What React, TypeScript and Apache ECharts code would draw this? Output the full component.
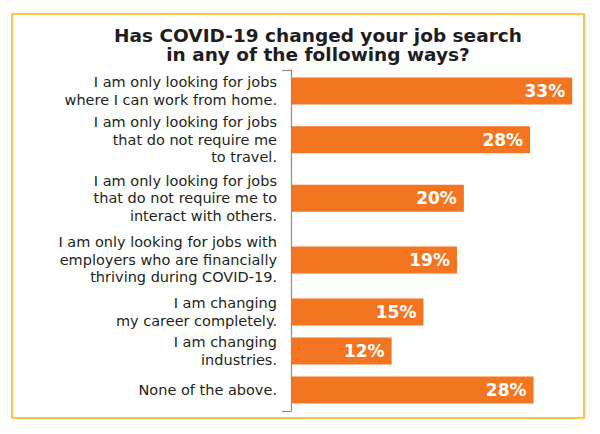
import React, { useEffect, useRef } from 'react';
import * as echarts from 'echarts';

const titleLines = ['Has COVID-19 changed your job search', 'in any of the following ways?'];

const categories = [
  'I am only looking for jobs\nwhere I can work from home.',
  'I am only looking for jobs\nthat do not require me\nto travel.',
  'I am only looking for jobs\nthat do not require me to\ninteract with others.',
  'I am only looking for jobs with\nemployers who are financially\nthriving during COVID-19.',
  'I am changing\nmy career completely.',
  'I am changing\nindustries.',
  'None of the above.',
];

const values = [32.7, 27.8, 20.1, 19.3, 15.4, 11.7, 28.2];

// Layout only: slot of each bar on a fine category axis, reproducing the uneven row spacing
const rowSlots = [6, 21, 39, 58, 74, 86, 98];
const SLOT_COUNT = 105;

export default function App() {
  const ref = useRef<HTMLDivElement>(null);

  useEffect(() => {
    const chart = echarts.init(ref.current!, null, { renderer: 'svg' });

    const slotNames: string[] = [];
    const labelAt: string[] = [];
    const barData: any[] = [];
    for (let i = 0; i < SLOT_COUNT; i++) {
      slotNames.push('s' + i);
      labelAt.push('');
      barData.push('-');
    }
    rowSlots.forEach((s, i) => {
      labelAt[s] = categories[i];
      barData[s] = values[i];
    });

    chart.setOption({
      animation: false,
      backgroundColor: '#ffffff',
      grid: { left: 291, top: 70, width: 301, height: 341, outerBoundsMode: 'none' },
      xAxis: { type: 'value', min: 0, max: 35, show: false },
      yAxis: {
        type: 'category',
        inverse: true,
        data: slotNames,
        axisLine: { show: true, lineStyle: { color: '#8c8c8c', width: 1.2 } },
        axisTick: {
          show: true,
          length: 9,
          interval: (index: number) => index === 0,
          lineStyle: { color: '#8c8c8c', width: 1.2 },
        },
        axisLabel: {
          interval: 0,
          formatter: (_v: string, i: number) => labelAt[i],
          margin: 14,
          align: 'right',
          fontSize: 14.5,
          lineHeight: 17.5,
          color: '#231f20',
          fontFamily: 'DejaVu Sans',
        },
        splitLine: { show: false },
      },
      series: [
        {
          type: 'bar',
          data: barData,
          barWidth: 27,
          itemStyle: { color: '#F37421' },
          label: {
            show: true,
            position: 'insideRight',
            distance: 7,
            formatter: (p: any) => Math.round(p.value) + '%',
            color: '#ffffff',
            fontSize: 17,
            fontWeight: 'bold',
            fontFamily: 'DejaVu Sans',
          },
        },
      ],
      graphic: [
        {
          type: 'rect',
          silent: true,
          shape: { x: 12, y: 14, width: 572, height: 404 },
          style: { fill: 'none', stroke: '#FFC548', lineWidth: 2 },
        },
        {
          type: 'text',
          silent: true,
          x: 318,
          y: 26,
          style: {
            text: titleLines.join('\n'),
            align: 'center',
            verticalAlign: 'top',
            fontSize: 18.5,
            fontWeight: 'bold',
            fontFamily: 'DejaVu Sans',
            lineHeight: 19,
            fill: '#1f1d1e',
          },
        },
      ],
    });

    return () => chart.dispose();
  }, []);

  return (
    <div
      ref={ref}
      style={{ position: 'fixed', left: 0, top: 0, width: 600, height: 434, background: '#fff' }}
    />
  );
}
